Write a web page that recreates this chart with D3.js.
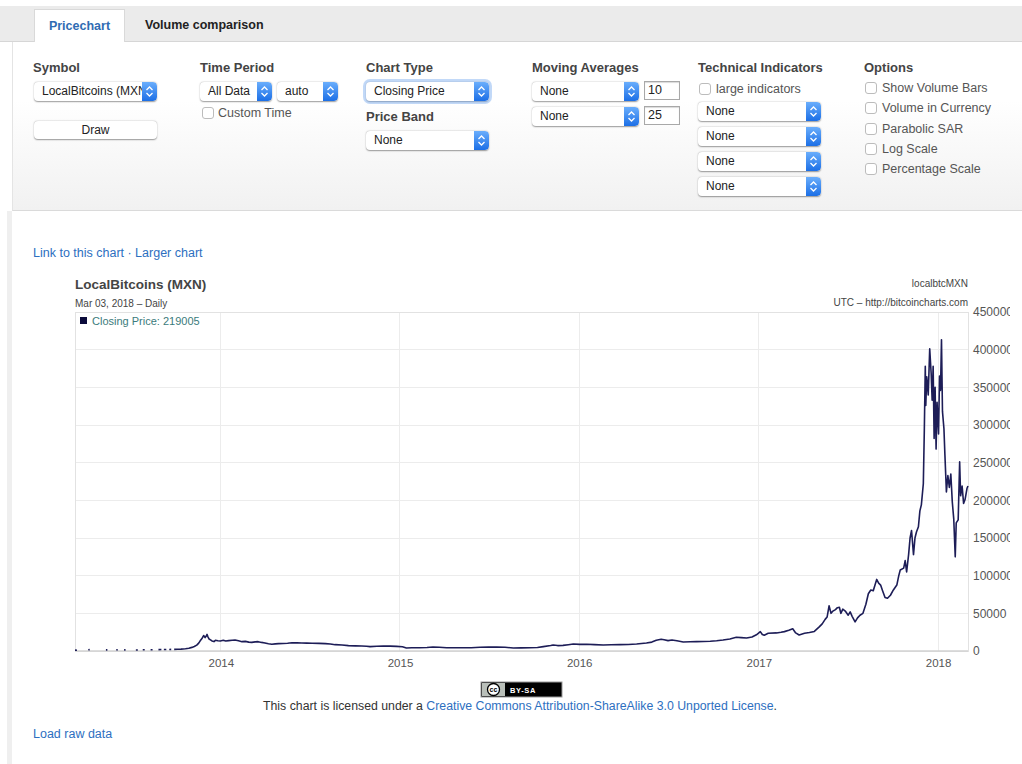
<!DOCTYPE html>
<html>
<head>
<meta charset="utf-8">
<title>LocalBitcoins (MXN) - Pricechart</title>
<script src="https://cdn.jsdelivr.net/npm/d3@7"></script>
<style>
  body { margin:0; width:1022px; height:764px; overflow:hidden; background:#fff; position:relative;
         font-family:"Liberation Sans", Arial, Helvetica, sans-serif; color:#333; }
  .abs { position:absolute; }
  #tabbar { left:0; top:6px; width:1022px; height:36px; background:#ebebeb; border-bottom:1px solid #d6d6d6; box-sizing:border-box; }
  #tab-price { left:34px; top:3px; width:91px; height:34px; background:#fff; border:1px solid #d9d9d9; border-bottom:none;
               box-sizing:border-box; color:#2f6cb3; font-size:12.5px; font-weight:bold; text-align:center; line-height:33px; }
  #tab-volume { left:145px; top:3px; height:33px; color:#222; font-size:12.5px; font-weight:bold; line-height:33px; }
  #form { left:12px; top:42px; width:1010px; height:169px; box-sizing:border-box; border-left:1px solid #e4e4e4;
          border-bottom:1px solid #dadada; background:linear-gradient(#fff 0%, #fff 35%, #f1f1f1 100%); }
  #leftstrip { left:7px; top:211px; width:5px; height:553px; background:#efefef; }
  .flabel { font-size:13px; font-weight:bold; color:#444; line-height:15px; white-space:nowrap; }
  .sel { height:19px; line-height:19px; font-size:12px; color:#222; background:#fff; border-radius:4px;
         box-shadow:0 0.5px 1.5px rgba(0,0,0,.4); padding-left:8px; box-sizing:border-box; overflow:hidden; white-space:nowrap; }
  .sel.focus { box-shadow:0 0 0 3px rgba(120,170,240,.45), 0 0.5px 1.5px rgba(0,0,0,.4); }
  .sel .btn { position:absolute; right:0; top:0; width:15px; height:19px; border-radius:0 4px 4px 0;
              background:linear-gradient(#6aaefc, #1c6fe6); }
  .cb { width:12px; height:12px; border:1px solid #bcbcbc; border-radius:3px; background:#fff; box-sizing:border-box; }
  .olab { font-size:12.5px; color:#555; line-height:14px; white-space:nowrap; }
  .inp { width:36px; height:19px; border:1px solid #a8a8a8; box-shadow:inset 0 1px 1px rgba(0,0,0,.15); background:#fff;
         box-sizing:border-box; font-size:12.5px; line-height:17px; padding-left:3px; color:#222; }
  .button { left:34px; top:121px; width:123px; height:18px; background:#fff; border-radius:4px; box-shadow:0 0.5px 1.5px rgba(0,0,0,.4);
            font-size:12px; line-height:18px; text-align:center; color:#222; }
  .link { color:#2d6fbf; font-size:12.5px; white-space:nowrap; }
  #license { left:0; width:1040px; top:699px; text-align:center; font-size:12.3px; color:#333; white-space:nowrap; }
  #license span { color:#2d6fbf; }
  #chart { left:0; top:0; pointer-events:none; }
</style>
</head>
<body>
<div id="tabbar" class="abs">
  <div id="tab-price" class="abs">Pricechart</div>
  <div id="tab-volume" class="abs">Volume comparison</div>
</div>
<div id="form" class="abs"></div>
<div id="leftstrip" class="abs"></div>
<div class="abs link" style="left:33px; top:246px;">Link to this chart · Larger chart</div>
<div id="license" class="abs">This chart is licensed under a <span>Creative Commons Attribution-ShareAlike 3.0 Unported License</span>.</div>
<div class="abs link" style="left:33px; top:727px;">Load raw data</div>
<svg id="chart" class="abs"></svg>

<script>
// closing prices (MXN), one small list per year; null = gap in trading
const prices2013 = [
  ['2013-03-10',1200],['2013-03-14',1000],['2013-03-20',null],
  ['2013-04-06',1600],['2013-04-09',1800],['2013-04-15',null],
  ['2013-05-12',1500],['2013-05-15',1500],['2013-05-20',null],
  ['2013-06-02',1600],['2013-06-05',1500],['2013-06-10',null],
  ['2013-06-18',1500],['2013-06-21',1500],['2013-06-28',null],
  ['2013-07-12',1400],['2013-07-16',1400],['2013-07-20',null],
  ['2013-07-26',1600],['2013-07-30',1600],['2013-08-05',null],
  ['2013-08-11',1700],['2013-08-15',1700],['2013-08-20',null],
  ['2013-08-27',1800],['2013-09-02',1900],['2013-09-05',null],
  ['2013-09-07',1900],['2013-09-12',2000],['2013-09-15',null],
  ['2013-09-18',2000],['2013-09-22',2100],['2013-09-25',null],
  ['2013-09-28',2200],['2013-10-05',2300],['2013-10-12',2500],['2013-10-21',3000],['2013-10-28',3600],
  ['2013-11-03',4800],['2013-11-08',6000],['2013-11-13',7800],['2013-11-17',10500],['2013-11-20',13500],
  ['2013-11-24',17000],['2013-11-27',20500],['2013-11-30',17800],['2013-12-02',19500],['2013-12-04',22000],
  ['2013-12-06',18500],['2013-12-08',16000],['2013-12-11',14800],['2013-12-14',13300],['2013-12-18',12500],
  ['2013-12-21',14200],['2013-12-26',13600],['2013-12-31',13300]
];
const prices2014 = [
  ['2014-01-06',14200],['2014-01-11',13200],['2014-01-17',13800],['2014-01-24',14300],['2014-01-30',14600],
  ['2014-02-06',13500],['2014-02-13',12400],['2014-02-20',12800],['2014-02-27',11800],['2014-03-05',11500],
  ['2014-03-12',12100],['2014-03-18',12400],['2014-03-25',11400],['2014-04-01',10600],['2014-04-08',9600],
  ['2014-04-15',8900],['2014-04-22',9500],['2014-04-29',9800],['2014-05-08',9900],['2014-05-17',10300],
  ['2014-05-26',11000],['2014-06-05',10800],['2014-06-15',10600],['2014-06-25',10500],['2014-07-06',10200],
  ['2014-07-20',10100],['2014-08-02',9800],['2014-08-12',9300],['2014-08-22',8400],['2014-09-05',7900],
  ['2014-09-18',7100],['2014-10-02',6800],['2014-10-15',6700],['2014-10-25',6400],['2014-11-01',5800],
  ['2014-11-15',6300],['2014-11-28',6700],['2014-12-12',6500],['2014-12-25',6200]
];
const prices2015 = [
  ['2015-01-06',5600],['2015-01-14',4000],['2015-01-25',4300],['2015-02-10',4400],['2015-02-25',4700],
  ['2015-03-09',5300],['2015-03-22',4900],['2015-04-06',4400],['2015-04-22',4300],['2015-05-10',4400],
  ['2015-05-26',4400],['2015-06-13',4900],['2015-06-30',5100],['2015-07-17',5300],['2015-08-03',5000],
  ['2015-08-20',4000],['2015-09-05',4100],['2015-09-23',4400],['2015-10-08',4700],['2015-10-20',5800],
  ['2015-11-04',7200],['2015-11-09',8000],['2015-11-18',7200],['2015-11-29',7500],['2015-12-10',8400],
  ['2015-12-20',9300]
];
const prices2016 = [
  ['2016-01-02',8800],['2016-01-16',8900],['2016-02-01',8400],['2016-02-19',8000],['2016-03-06',8300],
  ['2016-03-24',8400],['2016-04-10',8700],['2016-04-27',9300],['2016-05-17',10600],['2016-05-28',11800],
  ['2016-06-06',14200],['2016-06-16',15500],['2016-06-22',14900],['2016-06-30',13800],['2016-07-08',14600],
  ['2016-07-18',13500],['2016-07-31',12000],['2016-08-14',12300],['2016-08-27',12400],['2016-09-10',12700],
  ['2016-09-24',12900],['2016-10-07',13600],['2016-10-20',14600],['2016-11-03',16000],['2016-11-16',18200],
  ['2016-11-26',17800],['2016-12-07',17300],['2016-12-18',18500],['2016-12-27',21500]
];
const prices2017 = [
  ['2017-01-04',25700],['2017-01-08',22000],['2017-01-12',21000],['2017-01-20',23500],['2017-02-06',24000],
  ['2017-02-15',24800],['2017-02-22',25700],['2017-03-03',27500],['2017-03-11',29500],['2017-03-17',24000],
  ['2017-03-24',21300],['2017-04-04',23500],['2017-04-14',24500],['2017-04-24',26000],['2017-05-04',32000],
  ['2017-05-10',36000],['2017-05-16',42000],['2017-05-20',45000],['2017-05-24',60000],['2017-05-28',50000],
  ['2017-05-31',52500],['2017-06-06',55000],['2017-06-10',57500],['2017-06-14',58000],['2017-06-17',50000],
  ['2017-06-21',55500],['2017-06-26',53000],['2017-07-02',47500],['2017-07-06',52000],['2017-07-10',46000],
  ['2017-07-16',38700],['2017-07-21',44000],['2017-07-26',47500],['2017-08-01',50000],['2017-08-07',62000],
  ['2017-08-12',76000],['2017-08-17',81000],['2017-08-22',80000],['2017-08-29',95000],['2017-09-02',90000],
  ['2017-09-06',87500],['2017-09-10',80000],['2017-09-15',71000],['2017-09-20',70000],['2017-09-26',74000],
  ['2017-10-02',81000],['2017-10-09',87500],['2017-10-13',100000],['2017-10-16',107500],['2017-10-23',110000],
  ['2017-10-26',120000],['2017-10-29',105000],['2017-11-02',128000],['2017-11-05',150000],['2017-11-08',160000],
  ['2017-11-12',128000],['2017-11-15',150000],['2017-11-18',158000],['2017-11-22',165000],['2017-11-25',186000],
  ['2017-11-28',194000],['2017-12-02',222000],['2017-12-04',292000],['2017-12-06',378000],['2017-12-07',326000],
  ['2017-12-09',364000],['2017-12-12',340000],['2017-12-15',401000],['2017-12-18',368000],['2017-12-20',333000],
  ['2017-12-22',378000],['2017-12-24',282000],['2017-12-26',350000],['2017-12-28',268000],['2017-12-30',330000]
];
const prices2018 = [
  ['2018-01-02',288000],['2018-01-04',365000],['2018-01-06',346000],['2018-01-08',413000],['2018-01-10',318000],
  ['2018-01-13',295000],['2018-01-15',260000],['2018-01-18',211000],['2018-01-21',233000],['2018-01-24',217000],
  ['2018-01-27',235000],['2018-01-30',198000],['2018-02-02',175000],['2018-02-05',125000],['2018-02-07',170000],
  ['2018-02-11',174000],['2018-02-14',251000],['2018-02-16',206000],['2018-02-19',219000],['2018-02-22',196000],
  ['2018-02-25',201000],['2018-03-01',216000],['2018-03-03',219005]
];

const yTickValues = [0, 50000, 100000, 150000, 200000, 250000, 300000, 350000, 400000, 450000];
const xTickYears = ['2014', '2015', '2016', '2017', '2018'];
const chartTitle = 'LocalBitcoins (MXN)';
const symbolCode = 'localbtcMXN';
const sourceNote = 'UTC \u2013 http://bitcoincharts.com';
const seriesName = 'Closing Price';
const periodName = 'Daily';

// form controls above the chart (plain html, built with d3)
function buildControls() {
    const form = d3.select('body');

    const addLabel = (x, y, text) => form.append('div').attr('class', 'abs flabel')
        .style('left', x + 'px').style('top', y + 'px').text(text);

    const addSelect = (x, y, w, text, focus) => {
        const s = form.append('div').attr('class', 'abs sel' + (focus ? ' focus' : ''))
            .style('left', x + 'px').style('top', y + 'px').style('width', w + 'px');
        s.append('span').text(text);
        s.append('div').attr('class', 'btn').html(
            '<svg width="15" height="19"><polyline points="4.5,8 7.5,5 10.5,8" fill="none" stroke="#fff" stroke-width="1.3"/>' +
            '<polyline points="4.5,11 7.5,14 10.5,11" fill="none" stroke="#fff" stroke-width="1.3"/></svg>');
    };

    const addCheck = (x, y, text, lx) => {
        form.append('div').attr('class', 'abs cb').style('left', x + 'px').style('top', y + 'px');
        form.append('div').attr('class', 'abs olab').style('left', lx + 'px').style('top', (y - 1) + 'px').text(text);
    };

    addLabel(33, 60, 'Symbol');
    addLabel(200, 60, 'Time Period');
    addLabel(366, 60, 'Chart Type');
    addLabel(532, 60, 'Moving Averages');
    addLabel(698, 60, 'Technical Indicators');
    addLabel(864, 60, 'Options');
    addLabel(366, 109, 'Price Band');

    addSelect(34, 82, 123, 'LocalBitcoins (MXN)');
    addSelect(200, 82, 72, 'All Data');
    addSelect(277, 82, 61, 'auto');
    addSelect(366, 82, 123, 'Closing Price', true);
    addSelect(366, 131, 123, 'None');
    addSelect(532, 82, 107, 'None');
    addSelect(532, 107, 107, 'None');
    [102, 127, 152, 177].forEach(y => addSelect(698, y, 123, 'None'));

    form.append('div').attr('class', 'abs inp').style('left', '644px').style('top', '81px').text('10');
    form.append('div').attr('class', 'abs inp').style('left', '644px').style('top', '106px').text('25');
    form.append('div').attr('class', 'abs button').text('Draw');

    addCheck(202, 107, 'Custom Time', 218);
    addCheck(699, 83, 'large indicators', 716);
    ['Show Volume Bars', 'Volume in Currency', 'Parabolic SAR', 'Log Scale', 'Percentage Scale']
        .forEach((t, i) => addCheck(865, 82 + i * 20.3, t, 882));
}

class PriceChart {

    /**
     * Class constructor with basic chart configuration
     */
    constructor(_config, _data) {
        this.config = {
            parentElement: _config.parentElement,
            containerWidth: _config.containerWidth || 1010,
            containerHeight: _config.containerHeight || 764,
            margin: _config.margin || {top: 312, right: 42, bottom: 113, left: 75},
            lineColor: _config.lineColor || '#1d1d57'
        }
        this.data = _data;
        this.initVis();
    }

    initVis() {
        let vis = this;

        vis.width = vis.config.containerWidth - vis.config.margin.left - vis.config.margin.right;
        vis.height = vis.config.containerHeight - vis.config.margin.top - vis.config.margin.bottom;

        vis.xScale = d3.scaleUtc()
            .range([0, vis.width]);

        vis.yScale = d3.scaleLinear()
            .range([vis.height, 0]);

        vis.xAxis = d3.axisBottom(vis.xScale)
            .tickValues(xTickYears.map(d3.utcParse('%Y')))
            .tickSize(0)
            .tickPadding(8)
            .tickFormat(d3.utcFormat('%Y'));

        vis.yAxis = d3.axisRight(vis.yScale)
            .tickValues(yTickValues)
            .tickSize(0)
            .tickPadding(5)
            .tickFormat(d3.format('d'));

        vis.svg = d3.select(vis.config.parentElement)
            .attr('width', vis.config.containerWidth)
            .attr('height', vis.config.containerHeight);

        vis.chart = vis.svg.append('g')
            .attr('transform', `translate(${vis.config.margin.left},${vis.config.margin.top})`);

        vis.gridG = vis.chart.append('g').attr('class', 'grid');

        vis.chart.append('rect')
            .attr('width', vis.width)
            .attr('height', vis.height)
            .attr('fill', 'none')
            .attr('stroke', '#e2e2e2')
            .attr('shape-rendering', 'crispEdges');

        vis.chart.append('line')
            .attr('x1', 0).attr('x2', vis.width)
            .attr('y1', vis.height).attr('y2', vis.height)
            .attr('stroke', '#d2d2d2')
            .attr('stroke-width', 1.6);

        vis.xAxisG = vis.chart.append('g')
            .attr('class', 'axis x-axis')
            .attr('transform', `translate(0,${vis.height})`);

        vis.yAxisG = vis.chart.append('g')
            .attr('class', 'axis y-axis')
            .attr('transform', `translate(${vis.width},0)`);

        vis.linePath = vis.chart.append('path')
            .attr('fill', 'none')
            .attr('stroke', vis.config.lineColor)
            .attr('stroke-width', 1.6)
            .attr('stroke-linejoin', 'round');

        // header texts
        vis.chart.append('text')
            .attr('x', 0).attr('y', -23.5)
            .style('font-size', '13.5px').style('font-weight', 'bold').attr('fill', '#444')
            .text(chartTitle);

        vis.dateLabel = vis.chart.append('text')
            .attr('x', 0).attr('y', -5.5)
            .style('font-size', '10px').attr('fill', '#444');

        vis.chart.append('text')
            .attr('x', vis.width).attr('y', -25)
            .attr('text-anchor', 'end')
            .style('font-size', '10px').attr('fill', '#444')
            .text(symbolCode);

        vis.chart.append('text')
            .attr('x', vis.width).attr('y', -6.5)
            .attr('text-anchor', 'end')
            .style('font-size', '10px').attr('fill', '#444')
            .text(sourceNote);

        // legend
        vis.chart.append('rect')
            .attr('x', 5).attr('y', 5)
            .attr('width', 7).attr('height', 7)
            .attr('fill', '#0b0b3b');

        vis.legendText = vis.chart.append('text')
            .attr('x', 17).attr('y', 13)
            .style('font-size', '11px').attr('fill', '#3b7b7b');

        // licence badge below the chart
        const badge = vis.svg.append('g').attr('transform', 'translate(481,682)');
        badge.append('rect').attr('width', 81).attr('height', 15)
            .attr('fill', '#000').attr('stroke', '#9a9a9a');
        badge.append('rect').attr('x', 1).attr('y', 1).attr('width', 23).attr('height', 13).attr('fill', '#b9bfb9');
        badge.append('circle').attr('cx', 12.5).attr('cy', 7.5).attr('r', 6)
            .attr('fill', '#fff').attr('stroke', '#000').attr('stroke-width', 1.3);
        badge.append('text').attr('x', 12.5).attr('y', 10)
            .attr('text-anchor', 'middle').style('font-size', '7px').style('font-weight', 'bold').text('cc');
        badge.append('text').attr('x', 29).attr('y', 11)
            .attr('fill', '#fff').style('font-size', '7.5px').style('font-weight', 'bold')
            .style('letter-spacing', '0.6px').text('BY-SA');
    }

    updateVis() {
        let vis = this;

        vis.xValue = d => d.date;
        vis.yValue = d => d.value;

        vis.xScale.domain(d3.extent(vis.data, vis.xValue));
        vis.yScale.domain([0, d3.max(yTickValues)]);

        vis.last = vis.data[vis.data.length - 1];

        vis.renderVis();
    }

    renderVis() {
        let vis = this;

        // gridlines
        vis.gridG.selectAll('.hgrid')
            .data(yTickValues.slice(1))
            .join('line')
                .attr('class', 'hgrid')
                .attr('x1', 0).attr('x2', vis.width)
                .attr('y1', d => vis.yScale(d)).attr('y2', d => vis.yScale(d))
                .attr('stroke', '#ececec')
                .attr('shape-rendering', 'crispEdges');

        vis.gridG.selectAll('.vgrid')
            .data(vis.xAxis.tickValues())
            .join('line')
                .attr('class', 'vgrid')
                .attr('x1', d => vis.xScale(d)).attr('x2', d => vis.xScale(d))
                .attr('y1', 0).attr('y2', vis.height)
                .attr('stroke', '#ececec')
                .attr('shape-rendering', 'crispEdges');

        const line = d3.line()
            .defined(d => d.value !== null)
            .x(d => vis.xScale(vis.xValue(d)))
            .y(d => vis.yScale(vis.yValue(d)));

        vis.linePath.attr('d', line(vis.data));

        vis.dateLabel.text(d3.utcFormat('%b %d, %Y')(vis.last.date) + ' \u2013 ' + periodName);
        vis.legendText.text(seriesName + ': ' + d3.format('d')(vis.last.value));

        vis.xAxisG.call(vis.xAxis)
            .call(g => g.select('.domain').remove())
            .call(g => g.selectAll('text').style('font-size', '11.5px').attr('fill', '#555'));

        vis.yAxisG.call(vis.yAxis)
            .call(g => g.select('.domain').remove())
            .call(g => g.selectAll('text').style('font-size', '12px').attr('fill', '#555'));

        vis.svg.selectAll('text').style('font-family', '"Liberation Sans", Arial, Helvetica, sans-serif');
    }
}

buildControls();

const parseDate = d3.utcParse('%Y-%m-%d');
const priceData = [prices2013, prices2014, prices2015, prices2016, prices2017, prices2018]
    .flat()
    .map(([d, v]) => ({date: parseDate(d), value: v}));

const priceChart = new PriceChart({parentElement: '#chart'}, priceData);
priceChart.updateVis();
</script>
</body>
</html>
